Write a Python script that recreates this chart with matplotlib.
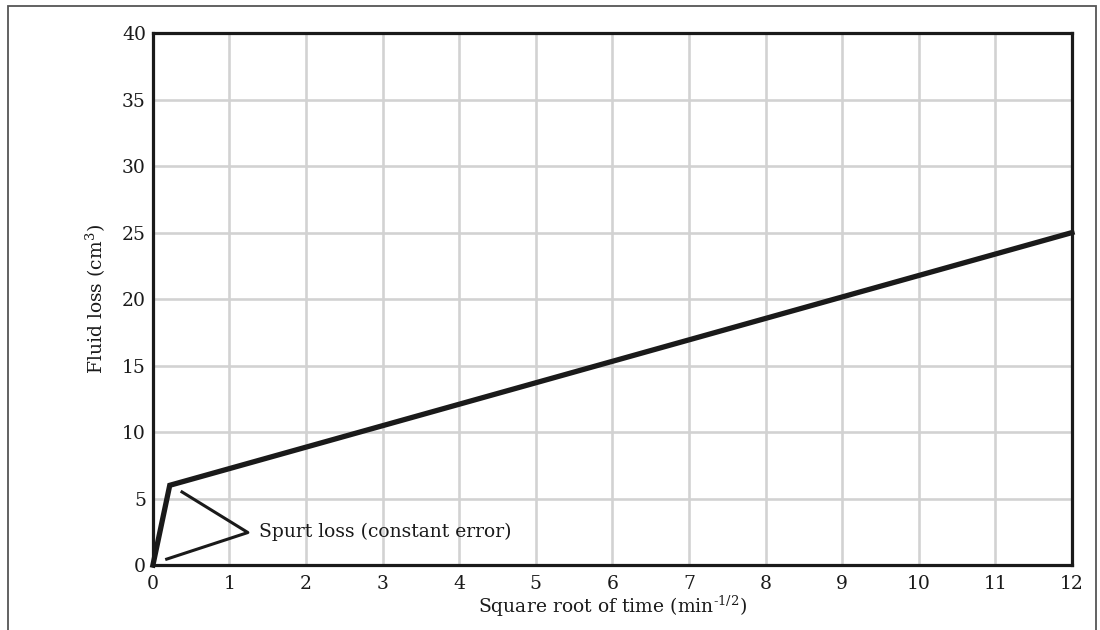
import matplotlib
matplotlib.use("Agg")
import matplotlib.pyplot as plt
from matplotlib.patches import Rectangle

plt.rcParams['font.family'] = ['DejaVu Serif']
plt.rcParams['mathtext.fontset'] = 'custom'
plt.rcParams['mathtext.rm'] = 'DejaVu Serif'
plt.rcParams['mathtext.it'] = 'DejaVu Serif:italic'

# Data
x_vals = [0.0, 0.22, 12.0]
y_vals = [0.0, 6.0, 25.0]
annot_x = [0.38, 1.24, 0.18]
annot_y = [5.5, 2.45, 0.45]
annot_text = "Spurt loss (constant error)"
x_ticks = list(range(0, 13))
y_ticks = list(range(0, 45, 5))

FS = 13.5
TC = '#1a1a1a'

fig = plt.figure(figsize=(11, 6.3), dpi=100)
ax = fig.add_axes([0.139, 0.103, 0.8355, 0.8445])

# outer frame
fig.patches.append(Rectangle((8/1100, -0.05), (1096-8)/1100, 1 - 6/630 + 0.05,
                             transform=fig.transFigure, fill=False,
                             edgecolor='#555555', linewidth=1.3))

ax.set_xlim(0, 12)
ax.set_ylim(0, 40)
ax.set_xticks(x_ticks)
ax.set_yticks(y_ticks)
ax.grid(True, color='#d2d2d2', linewidth=1.9)
ax.set_axisbelow(True)
ax.tick_params(axis='x', length=0, labelsize=FS, pad=7, labelcolor=TC)
ax.tick_params(axis='y', length=0, labelsize=FS, pad=5, labelcolor=TC)
for s in ax.spines.values():
    s.set_linewidth(2.3)
    s.set_color(TC)
    s.set_zorder(5)

ax.plot(x_vals, y_vals, color=TC, linewidth=3.8, solid_joinstyle='miter',
        clip_on=False, zorder=6)
ax.plot(annot_x, annot_y, color=TC, linewidth=2.2, zorder=6)
ax.text(1.38, 2.5, annot_text, fontsize=FS, va='center', ha='left', color=TC)

ax.set_xlabel("Square root of time (min$^{\\mathrm{\u20101/2}}$)", fontsize=FS,
              labelpad=1, color=TC)
ax.set_ylabel(r"Fluid loss (cm$^{\mathrm{3}}$)", fontsize=FS, labelpad=10, color=TC)

fig.savefig("out.png", dpi=100)
